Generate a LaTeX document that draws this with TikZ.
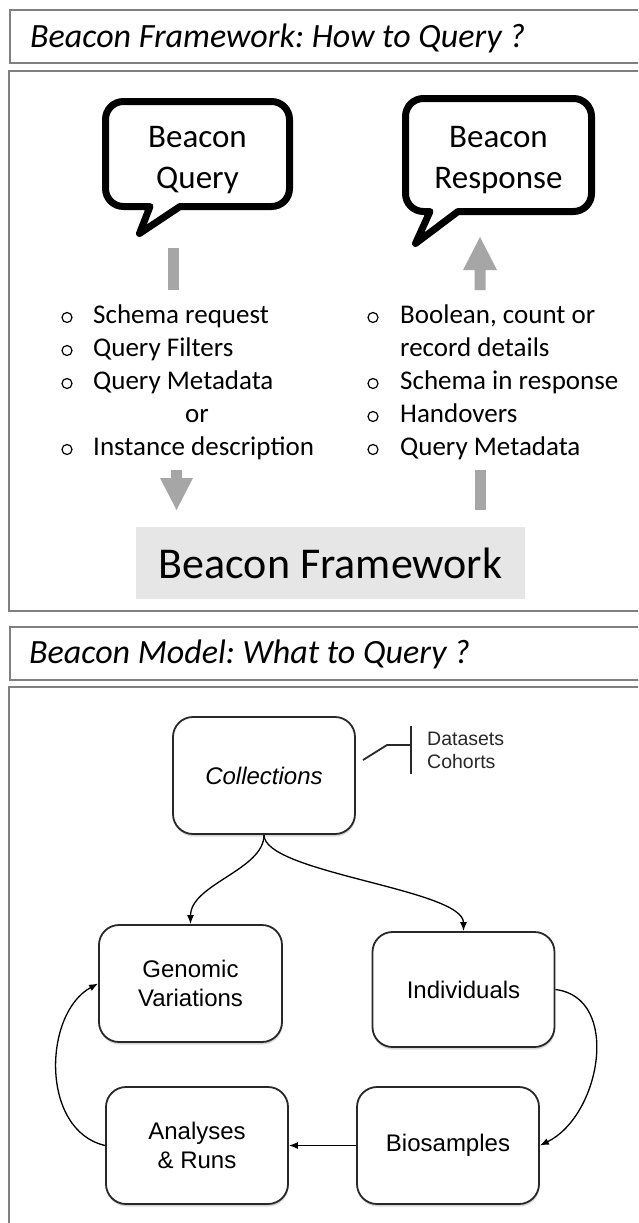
\documentclass[tikz,border=0pt]{standalone}
\usepackage{fontspec}
\setmainfont{Carlito}
\newfontfamily\arialfont{Liberation Sans}
\usetikzlibrary{arrows.meta,shadows}
\frenchspacing

\definecolor{framegray}{RGB}{128,128,128}
\definecolor{arrowgray}{RGB}{166,166,166}
\definecolor{boxgray}{RGB}{231,230,230}
\definecolor{edgedark}{RGB}{40,40,40}

\begin{document}
\begin{tikzpicture}[x=1pt,y=-1pt,
  frame/.style={draw=framegray,line width=2pt},
  bubble/.style={draw=black,line width=7pt,line join=round,fill=white},
  bubbletext/.style={font=\fontsize{33}{40}\selectfont,anchor=base,inner sep=0pt},
  itemtext/.style={font=\fontsize{27}{33}\selectfont,anchor=base west,inner sep=0pt},
  bulletmark/.style={draw=black,line width=1.2pt},
  headtext/.style={font=\fontsize{34}{40}\selectfont\itshape,anchor=base west,inner sep=0pt},
  pointer/.style={fill=arrowgray},
  fwbox/.style={fill=boxgray,minimum width=389pt,minimum height=72pt,inner sep=0pt,
    font=\fontsize{44}{50}\selectfont},
  entity/.style={draw=edgedark,line width=1.8pt,rounded corners=20pt,fill=white,
    minimum width=182pt,minimum height=117pt,align=center,inner sep=0pt,
    font=\arialfont\fontsize{24}{28.5}\selectfont,
    drop shadow={shadow xshift=0.5pt,shadow yshift=-2.5pt,opacity=0.3}},
  bracketline/.style={draw=edgedark,line width=1.8pt},
  note/.style={font=\arialfont\fontsize{19.5}{23}\selectfont,anchor=base west,inner sep=0pt,text=edgedark},
  link/.style={draw=black,line width=1.3pt,-{Latex[length=9pt,width=7pt]}},
]
\useasboundingbox (0,0) rectangle (638,1223);
\clip (0,0) rectangle (638,1223);
\fill[white] (0,0) rectangle (638,1223);

% ---------- section frames ----------
\draw[frame] (10,10) rectangle (660,63);
\draw[frame] (9,71) rectangle (660,611);
\draw[frame] (10,627) rectangle (660,680);
\draw[frame] (9,687) rectangle (660,1260);

\node[headtext] (h1) at (30,48) {Beacon Framework: How to Query ?};
\node[headtext] (h2) at (29,663) {Beacon Model: What to Query ?};

% ---------- speech bubbles ----------
\draw[bubble] (150,206.5) -- (139.5,233.5) -- (180,206.5) -- (271.5,206.5)
  .. controls (281.5,206.5) and (289.5,198.5) .. (289.5,188.5) -- (289.5,119.5)
  .. controls (289.5,109.5) and (281.5,101.5) .. (271.5,101.5) -- (123.5,101.5)
  .. controls (113.5,101.5) and (105.5,109.5) .. (105.5,119.5) -- (105.5,188.5)
  .. controls (105.5,198.5) and (113.5,206.5) .. (123.5,206.5) -- cycle;
\node[bubbletext] (qa) at (197.5,147) {Beacon};
\node[bubbletext] (qb) at (197.5,188) {Query};

\draw[bubble] (430,211.5) -- (415.5,243.5) -- (458,211.5) -- (573.5,211.5)
  .. controls (583.5,211.5) and (591.5,203.5) .. (591.5,193.5) -- (591.5,116.5)
  .. controls (591.5,106.5) and (583.5,98.5) .. (573.5,98.5) -- (423.5,98.5)
  .. controls (413.5,98.5) and (405.5,106.5) .. (405.5,116.5) -- (405.5,193.5)
  .. controls (405.5,203.5) and (413.5,211.5) .. (423.5,211.5) -- cycle;
\node[bubbletext] (ra) at (498.5,147) {Beacon};
\node[bubbletext] (rb) at (498.5,188) {Response};

% ---------- grey flow marks ----------
\fill[pointer] (167.5,248) rectangle (178.5,290);
\fill[pointer] (474.5,290) -- (474.5,270) -- (463,270) -- (480,237) -- (497,270)
  -- (485.5,270) -- (485.5,290) -- cycle;
\fill[pointer] (171,470) -- (182,470) -- (182,478) -- (193,478) -- (176.5,510)
  -- (160,478) -- (171,478) -- cycle;
\fill[pointer] (474.5,470) rectangle (485.5,510);

% ---------- query items ----------
\node[itemtext] (l1) at (93,323) {Schema request};
\node[itemtext] (l2) at (93,356) {Query Filters};
\node[itemtext] (l3) at (93,389) {Query Metadata};
\node[itemtext,anchor=base] (l4) at (197,422) {or};
\node[itemtext] (l5) at (93,455) {Instance description};
\foreach \y in {317.5,350.5,383.5,449.5}
  \draw[bulletmark] (67,\y) circle[radius=5];

% ---------- response items ----------
\node[itemtext] (r1) at (400,323) {Boolean, count or};
\node[itemtext] (r2) at (400,356) {record details};
\node[itemtext] (r3) at (400,389) {Schema in response};
\node[itemtext] (r4) at (400,422) {Handovers};
\node[itemtext] (r5) at (400,455) {Query Metadata};
\foreach \y in {317.5,383.5,416.5,449.5}
  \draw[bulletmark] (373,\y) circle[radius=5];

\node[fwbox] (fw) at (330.5,563) {Beacon Framework};

% ---------- model entities ----------
\node[entity] (coll) at (264,775.5) {\itshape Collections};
\node[entity,minimum width=183pt] (gen) at (190.5,983.5) {Genomic\\Variations};
\node[entity,minimum height=115pt] (ind) at (463.5,989.5) {Individuals};
\node[entity] (ana) at (197,1145.5) {Analyses\\\& Runs};
\node[entity] (bio) at (448,1145.5) {Biosamples};

% collection types
\coordinate (cstub) at (363,760);
\coordinate (cbend) at (387,745);
\coordinate (cbar) at (411,745);
\draw[bracketline] (411,726) -- (411,774);
\draw[bracketline] (cstub) -- (cbend) -- (cbar);
\node[note] (ds) at (427,745) {Datasets};
\node[note] (co) at (427,768) {Cohorts};

% ---------- model links ----------
\draw[link] (coll.south) .. controls +(0,35) and +(0,-40) .. (gen.north);
\draw[link] (coll.south) .. controls +(0,38) and +(0,-42) .. (ind.north);
\draw[link] (ind.east) .. controls +(66,8) and +(61,-30) .. (bio.east);
\draw[link] (bio.west) -- (ana.east);
\draw[link] (ana.west) .. controls +(-65,-15) and +(-55,30) .. (gen.west);
\end{tikzpicture}
\end{document}
